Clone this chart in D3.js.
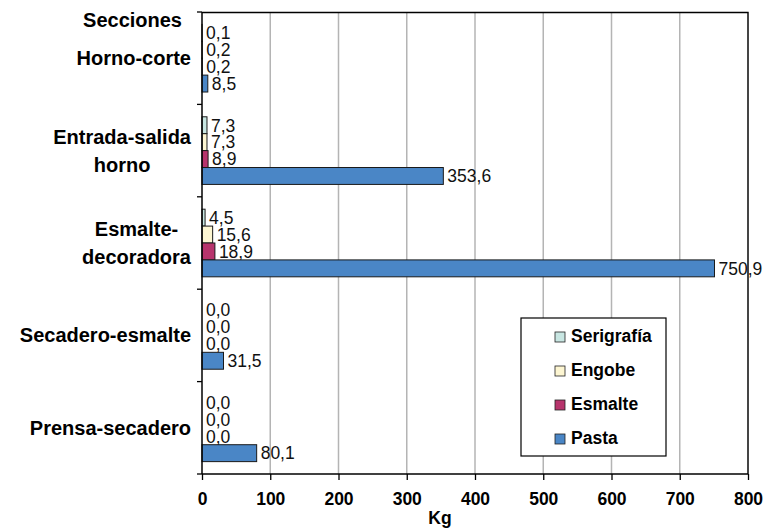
<!DOCTYPE html>
<html>
<head>
<meta charset="utf-8">
<script src="https://cdn.jsdelivr.net/npm/d3@7"></script>
<style>
  body { margin: 0; background: #fff; }
  text { font-family: Arial, "Liberation Sans", sans-serif; }
</style>
</head>
<body>
<div id="app"></div>
<script>
// Categories, top to bottom (lines split for the wrapped labels)
const categories = ['Horno-corte', 'Entrada-salida horno', 'Esmalte-decoradora', 'Secadero-esmalte', 'Prensa-secadero'];
const categoryLines = [['Horno-corte'], ['Entrada-salida', 'horno'], ['Esmalte-', 'decoradora'], ['Secadero-esmalte'], ['Prensa-secadero']];
const seriesNames = ['Serigrafía', 'Engobe', 'Esmalte', 'Pasta'];
const serigrafia = [0.1, 7.3, 4.5, 0.0, 0.0];
const engobe = [0.2, 7.3, 15.6, 0.0, 0.0];
const esmalte = [0.2, 8.9, 18.9, 0.0, 0.0];
const pasta = [8.5, 353.6, 750.9, 31.5, 80.1];
const xTicks = [0, 100, 200, 300, 400, 500, 600, 700, 800];
const colors = ['#c8e6e2', '#fdf6d2', '#b7346c', '#4a86c6'];

const seriesValues = [serigrafia, engobe, esmalte, pasta];

const width = 767;
const height = 528;
const margin = { top: 12, right: 19, bottom: 54, left: 202 };

const svg = d3.select('#app').append('svg')
  .attr('width', width)
  .attr('height', height);

svg.append('rect').attr('width', width).attr('height', height).attr('fill', '#fff');

const chartWidth = width - margin.left - margin.right;
const chartHeight = height - margin.top - margin.bottom;

const chart = svg.append('g')
  .attr('transform', `translate(${margin.left}, ${margin.top})`);

const xScale = d3.scaleLinear().domain([0, 800]).range([0, chartWidth]);
const yScale = d3.scaleBand().domain(categories).range([0, chartHeight]).padding(0);
const yInner = d3.scaleBand().domain(seriesNames)
  .range([yScale.bandwidth() * 0.134, yScale.bandwidth() * 0.866]).padding(0);

// vertical gridlines
chart.append('g')
  .selectAll('line')
  .data(xTicks.slice(1))
  .enter()
  .append('line')
  .attr('x1', d => xScale(d))
  .attr('x2', d => xScale(d))
  .attr('y1', 0)
  .attr('y2', chartHeight)
  .attr('stroke', '#b4b4b4')
  .attr('stroke-width', 1.5);

// frame top/right
chart.append('path')
  .attr('d', `M0,0.5H${chartWidth}V${chartHeight}`)
  .attr('fill', 'none')
  .attr('stroke', '#000')
  .attr('stroke-width', 1.3);

const fmt = v => d3.format('.1f')(v).replace('.', ',');

// bars
const groups = chart.selectAll('.cat')
  .data(categories)
  .enter()
  .append('g')
  .attr('transform', d => `translate(0, ${yScale(d)})`);

seriesNames.forEach((s, si) => {
  groups.append('rect')
    .attr('x', 0)
    .attr('y', yInner(s))
    .attr('width', (d, i) => xScale(seriesValues[si][i]))
    .attr('height', yInner.bandwidth())
    .attr('fill', colors[si])
    .attr('stroke', (d, i) => seriesValues[si][i] > 0 ? '#1a1a1a' : 'none')
    .attr('stroke-width', 1);

  groups.append('text')
    .attr('x', (d, i) => xScale(seriesValues[si][i]) + 4)
    .attr('y', yInner(s) + yInner.bandwidth() / 2)
    .attr('dy', '0.36em')
    .attr('font-size', 17.5)
    .attr('fill', '#111')
    .text((d, i) => fmt(seriesValues[si][i]));
});

// axes
const xAxis = d3.axisBottom(xScale).tickValues(xTicks).tickSize(6).tickPadding(13);
const xAxisGroup = chart.append('g')
  .attr('transform', `translate(0, ${chartHeight})`)
  .call(xAxis);
xAxisGroup.select('.domain').attr('stroke', '#000').attr('stroke-width', 1.5)
  .attr('d', `M0,0H${chartWidth}`);
xAxisGroup.selectAll('.tick line').attr('stroke', '#000').attr('stroke-width', 1.3);
xAxisGroup.selectAll('.tick text')
  .attr('font-size', 17.5)
  .attr('font-weight', 'bold')
  .attr('font-family', 'Arial, "Liberation Sans", sans-serif')
  .attr('fill', '#000');

// left axis with ticks at band boundaries
const yAxisGroup = chart.append('g');
yAxisGroup.append('line')
  .attr('x1', 0).attr('x2', 0).attr('y1', 0).attr('y2', chartHeight)
  .attr('stroke', '#000').attr('stroke-width', 1.5);
yAxisGroup.selectAll('.ytick')
  .data(categories.concat(['end']))
  .enter()
  .append('line')
  .attr('x1', -5).attr('x2', 0)
  .attr('y1', (d, i) => i < categories.length ? yScale(d) : chartHeight)
  .attr('y2', (d, i) => i < categories.length ? yScale(d) : chartHeight)
  .attr('stroke', '#000').attr('stroke-width', 1.3);

// category labels
const labelRight = -11;
categoryLines.forEach((lines, i) => {
  const cy = yScale(categories[i]) + yScale.bandwidth() / 2;
  const lineH = 28;
  const t = chart.append('text')
    .attr('font-size', 20)
    .attr('font-weight', 'bold')
    .attr('fill', '#000');
  lines.forEach((ln, j) => {
    t.append('tspan')
      .attr('y', cy + 7 + (j - (lines.length - 1) / 2) * lineH)
      .text(ln);
  });
  const w = d3.max(t.selectAll('tspan').nodes(), n => n.getComputedTextLength());
  t.attr('text-anchor', 'middle');
  t.selectAll('tspan').attr('x', labelRight - w / 2);
});

// "Secciones" title
chart.append('text')
  .attr('x', -20)
  .attr('y', 15)
  .attr('text-anchor', 'end')
  .attr('font-size', 20)
  .attr('font-weight', 'bold')
  .text('Secciones');

// x axis title
chart.append('text')
  .attr('x', 238)
  .attr('y', chartHeight + 50)
  .attr('text-anchor', 'middle')
  .attr('font-size', 17.5)
  .attr('font-weight', 'bold')
  .text('Kg');

// legend
const legend = chart.append('g').attr('transform', 'translate(319, 306)');
legend.append('rect')
  .attr('width', 145).attr('height', 138)
  .attr('fill', '#fff').attr('stroke', '#000').attr('stroke-width', 1.2);
seriesNames.forEach((s, i) => {
  const ly = 24 + i * 34;
  legend.append('rect')
    .attr('x', 34).attr('y', ly - 10)
    .attr('width', 10).attr('height', 10)
    .attr('fill', colors[i]).attr('stroke', '#222').attr('stroke-width', 0.8);
  legend.append('text')
    .attr('x', 50).attr('y', ly)
    .attr('font-size', 17.5).attr('font-weight', 'bold')
    .text(s);
});
</script>
</body>
</html>
